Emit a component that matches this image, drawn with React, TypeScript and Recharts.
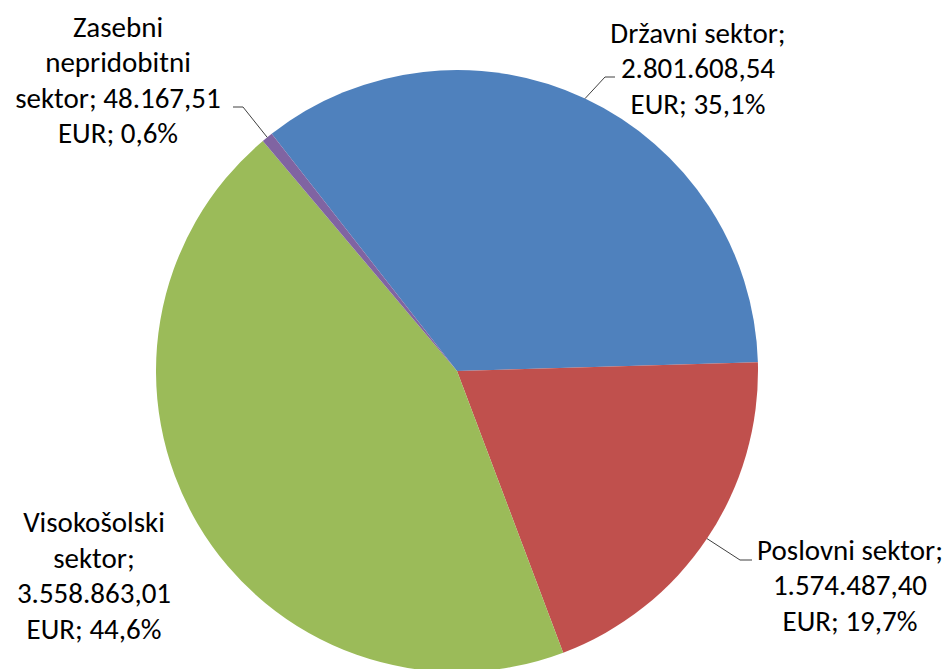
import { Cell, Pie, PieChart } from "recharts";

const SECTORS = [
  "Državni sektor",
  "Poslovni sektor",
  "Visokošolski sektor",
  "Zasebni nepridobitni sektor",
];
const AMOUNTS = [2801608.54, 1574487.4, 3558863.01, 48167.51];
const COLORS = ["#4F81BD", "#C0504D", "#9BBB59", "#8064A2"];

// max characters per label line, per slice (how the labels wrap)
const WRAP = [15, 16, 12, 17];

// label block centre, leader elbow and leader end, relative to pie centre
const LABEL_LAYOUT = [
  { tx: 241, ty: -303, ex: 148, ey: -294, hx: 158 },
  { tx: 393, ty: 214, ex: 283, ey: 189, hx: 295 },
  { tx: -363, ty: 204.5 },
  { tx: -339, ty: -291, ex: -214, ey: -264, hx: -224 },
];

const data = SECTORS.map((name, i) => ({ name, value: AMOUNTS[i] }));
const total = AMOUNTS.reduce((a, b) => a + b, 0);

const RADIAN = Math.PI / 180;
const LINE_H = 35.5;

function fmtEur(v: number) {
  const [int, dec] = v.toFixed(2).split(".");
  return int.replace(/\B(?=(\d{3})+(?!\d))/g, ".") + "," + dec;
}

function wrap(text: string, max: number) {
  const words = text.split(" ");
  const lines: string[] = [];
  let cur = "";
  for (const w of words) {
    if (!cur) cur = w;
    else if ((cur + " " + w).length <= max) cur += " " + w;
    else {
      lines.push(cur);
      cur = w;
    }
  }
  if (cur) lines.push(cur);
  return lines;
}

function SliceLabel(props: any) {
  const { cx, cy, midAngle, outerRadius, index, value } = props;
  const layout = LABEL_LAYOUT[index];
  const pct = ((value / total) * 100).toFixed(1).replace(".", ",");
  const text = `${SECTORS[index]}; ${fmtEur(value)} EUR; ${pct}%`;
  const lines = wrap(text, WRAP[index]);
  const tx = cx + layout.tx;
  const ty = cy + layout.ty;
  const sx = cx + outerRadius * Math.cos(-midAngle * RADIAN);
  const sy = cy + outerRadius * Math.sin(-midAngle * RADIAN);
  return (
    <g>
      {layout.ex !== undefined && (
        <polyline
          points={`${sx},${sy} ${cx + layout.ex},${cy + layout.ey} ${cx + layout.hx},${cy + layout.ey}`}
          fill="none"
          stroke="#404040"
          strokeWidth={1}
        />
      )}
      {lines.map((l, i) => (
        <text
          key={i}
          x={tx}
          y={ty + (i - (lines.length - 1) / 2) * LINE_H}
          textAnchor="middle"
          dominantBaseline="central"
          fill="#000"
          fontSize={29}
          fontFamily="Carlito, Lato, sans-serif"
        >
          {l}
        </text>
      ))}
    </g>
  );
}

export default function App() {
  return (
    <div style={{ position: "fixed", top: 0, left: 0, width: 947, height: 669, background: "#fff" }}>
      <PieChart width={947} height={669} margin={{ top: 0, right: 0, bottom: 0, left: 0 }}>
        <Pie
          data={data}
          dataKey="value"
          nameKey="name"
          cx={457}
          cy={371}
          outerRadius={301}
          startAngle={128}
          endAngle={-232}
          stroke="none"
          label={SliceLabel}
          labelLine={false}
          isAnimationActive={false}
        >
          {data.map((_, i) => (
            <Cell key={i} fill={COLORS[i]} />
          ))}
        </Pie>
      </PieChart>
    </div>
  );
}
